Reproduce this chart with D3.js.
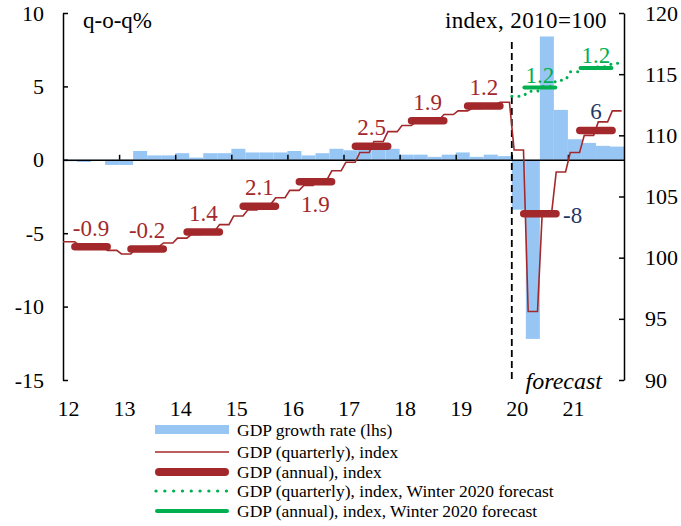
<!DOCTYPE html>
<html>
<head>
<meta charset="utf-8">
<script src="https://cdn.jsdelivr.net/npm/d3@7"></script>
<style>
  body { margin: 0; background: #fff; }
  text { font-family: "Liberation Serif", "Times New Roman", serif; }
</style>
</head>
<body>
<div id="chart"></div>
<script>
// x labels, one per year
var years = ["12", "13", "14", "15", "16", "17", "18", "19", "20", "21"];

// q-o-q growth, 2012Q1 .. 2021Q4 (lhs)
var growth = [
  -0.1, -0.15, -0.05, -0.35,
  -0.35, 0.6, 0.3, 0.3,
  0.45, 0.15, 0.45, 0.45,
  0.75, 0.5, 0.5, 0.5,
  0.6, 0.3, 0.45, 0.75,
  0.65, 0.75, 0.8, 0.75,
  0.35, 0.35, 0.2, 0.35,
  0.5, 0.2, 0.35, 0.25,
  -3.4, -12.2, 8.4, 3.4,
  1.4, 1.15, 0.95, 0.9
];

// quarterly GDP index, 2010=100 (rhs)
var quarterlyIndex = [
  101.3, 101.0, 100.9, 100.6,
  100.3, 100.7, 100.9, 101.2,
  101.6, 101.9, 102.2, 102.7,
  103.4, 103.9, 104.4, 104.9,
  105.5, 105.9, 106.4, 107.1,
  107.8, 108.6, 109.5, 110.3,
  110.8, 111.1, 111.3, 111.7,
  112.0, 112.2, 112.5, 112.7,
  108.8, 95.6, 103.6, 107.0,
  108.6, 110.0, 111.1, 112.0
];

// annual GDP index and growth labels
var annualIndex = [100.9, 100.7, 102.1, 104.2, 106.2, 109.1, 111.2, 112.4, 103.6, 110.4];
var annualLabels = ["-0.9", "-0.2", "1.4", "2.1", "1.9", "2.5", "1.9", "1.2", "-8", "6"];

// Winter 2020 forecast, 2020Q1 .. 2021Q4 and 2020, 2021
var forecastQuarterly = [113.2, 113.6, 114.0, 114.5, 115.2, 115.5, 115.6, 115.9];
var forecastAnnual = [113.9, 115.5];
var forecastLabels = ["1.2", "1.2"];

var red = "#a3282b", blue = "#97c6f4", green = "#00b050", navy = "#1f3864";

var svg = d3.select("#chart").append("svg")
    .attr("width", 681)
    .attr("height", 526);

var x = d3.scaleLinear().domain([0, 40]).range([63, 624]);
var yL = d3.scaleLinear().domain([-15, 10]).range([380, 13]);
var yR = d3.scaleLinear().domain([90, 120]).range([380, 13]);

// plain hyphen for negatives, as in the original
var fmt = function (d) { return String(d); };

// growth bars
svg.append("g")
    .selectAll("rect")
    .data(growth)
    .enter()
    .append("rect")
    .attr("x", function (d, i) { return x(i); })
    .attr("width", function (d, i) { return x(i + 1) - x(i); })
    .attr("y", function (d) { return yL(Math.max(0, d)); })
    .attr("height", function (d) { return Math.abs(yL(d) - yL(0)); })
    .attr("fill", blue);

// zero line with year ticks
svg.append("g")
    .attr("transform", "translate(0," + yL(0) + ")")
    .call(d3.axisBottom(x).tickValues(d3.range(4, 40, 4)).tickSizeInner(-5).tickSizeOuter(0).tickFormat(""))
    .call(function (g) { g.select(".domain").attr("stroke-width", 1.5); })
    .call(function (g) { g.selectAll(".tick line").attr("stroke-width", 1.5); });

// year labels along the bottom
svg.append("g")
    .attr("transform", "translate(5,380)")
    .call(d3.axisBottom(x).tickValues(d3.range(0, 40, 4)).tickSize(0).tickPadding(20)
        .tickFormat(function (d) { return years[d / 4]; }))
    .call(function (g) { g.select(".domain").remove(); })
    .selectAll("text")
    .style("font-size", "22px")
    .style("font-family", "'Liberation Serif', serif")
    .attr("fill", "#000");

// left axis
svg.append("g")
    .attr("transform", "translate(63,0)")
    .call(d3.axisLeft(yL).tickValues([-15, -10, -5, 0, 5, 10]).tickSizeInner(-5).tickSizeOuter(0)
        .tickPadding(19).tickFormat(fmt))
    .call(function (g) { g.select(".domain").attr("stroke-width", 1.5); })
    .call(function (g) { g.selectAll(".tick line").attr("stroke-width", 1.5); })
    .selectAll("text")
    .style("font-size", "22px")
    .style("font-family", "'Liberation Serif', serif");

// right axis
svg.append("g")
    .attr("transform", "translate(624,0)")
    .call(d3.axisRight(yR).tickValues([90, 95, 100, 105, 110, 115, 120]).tickSizeInner(-5).tickSizeOuter(0)
        .tickPadding(21).tickFormat(fmt))
    .call(function (g) { g.select(".domain").attr("stroke-width", 1.5); })
    .call(function (g) { g.selectAll(".tick line").attr("stroke-width", 1.5); })
    .selectAll("text")
    .style("font-size", "22px")
    .style("font-family", "'Liberation Serif', serif");

// step line helper: each quarter held flat, short slope into the next
function stepPoints(values, q0) {
    var pts = [];
    values.forEach(function (v, k) {
        var q = q0 + k;
        pts.push([k === 0 ? x(q) : x(q + 1 / 6), yR(v)]);
        pts.push([x(q + 5 / 6), yR(v)]);
    });
    return pts;
}

var line = d3.line();

// forecast divider
svg.append("line")
    .attr("x1", x(32)).attr("x2", x(32))
    .attr("y1", 42).attr("y2", 380)
    .attr("stroke", "#000")
    .attr("stroke-width", 1.8)
    .attr("stroke-dasharray", "7,4");

// quarterly index
svg.append("path")
    .attr("d", line(stepPoints(quarterlyIndex, 0)))
    .attr("fill", "none")
    .attr("stroke", red)
    .attr("stroke-width", 1.6);

// Winter forecast quarterly (dotted)
svg.append("path")
    .attr("d", line(stepPoints(forecastQuarterly, 32)))
    .attr("fill", "none")
    .attr("stroke", green)
    .attr("stroke-width", 3)
    .attr("stroke-linecap", "round")
    .attr("stroke-dasharray", "0.1,7");

// annual bars
svg.append("g")
    .selectAll("line")
    .data(annualIndex)
    .enter()
    .append("line")
    .attr("x1", function (d, i) { return x(4 * i + 0.85); })
    .attr("x2", function (d, i) { return x(4 * i + 3.15); })
    .attr("y1", function (d) { return yR(d); })
    .attr("y2", function (d) { return yR(d); })
    .attr("stroke", red)
    .attr("stroke-width", 7.5)
    .attr("stroke-linecap", "round");

svg.append("g")
    .selectAll("line")
    .data(forecastAnnual)
    .enter()
    .append("line")
    .attr("x1", function (d, i) { return x(32 + 4 * i + 0.9); })
    .attr("x2", function (d, i) { return x(32 + 4 * i + 3.1); })
    .attr("y1", function (d) { return yR(d); })
    .attr("y2", function (d) { return yR(d); })
    .attr("stroke", green)
    .attr("stroke-width", 4)
    .attr("stroke-linecap", "round");

// annual growth labels
var place = ["above", "above", "above", "above", "below", "above", "above", "above", "right", "above"];
svg.append("g")
    .selectAll("text")
    .data(annualIndex)
    .enter()
    .append("text")
    .attr("x", function (d, i) {
        return place[i] === "right" ? x(4 * i + 3.15) + 7 : x(4 * i + 2);
    })
    .attr("y", function (d, i) {
        if (place[i] === "below") return yR(d) + 30;
        if (place[i] === "right") return yR(d) + 9;
        return yR(d) - 11;
    })
    .attr("text-anchor", function (d, i) { return place[i] === "right" ? "start" : "middle"; })
    .attr("fill", function (d, i) { return i >= 8 ? navy : red; })
    .style("font-size", "23px")
    .text(function (d, i) { return annualLabels[i]; });

svg.append("g")
    .selectAll("text")
    .data(forecastAnnual)
    .enter()
    .append("text")
    .attr("x", function (d, i) { return x(32 + 4 * i + 2); })
    .attr("y", function (d) { return yR(d) - 5; })
    .attr("text-anchor", "middle")
    .attr("fill", green)
    .style("font-size", "23px")
    .text(function (d, i) { return forecastLabels[i]; });

// axis titles
svg.append("text")
    .attr("x", 83).attr("y", 28)
    .style("font-size", "23px")
    .text("q-o-q%");

svg.append("text")
    .attr("x", 607).attr("y", 28)
    .attr("text-anchor", "end")
    .style("font-size", "23px")
    .style("letter-spacing", "0.4px")
    .text("index, 2010=100");

svg.append("text")
    .attr("x", 602).attr("y", 389)
    .attr("text-anchor", "end")
    .style("font-size", "24px")
    .style("font-style", "italic")
    .text("forecast");

// legend
var legendNames = [
    "GDP growth rate (lhs)",
    "GDP (quarterly), index",
    "GDP (annual), index",
    "GDP (quarterly), index, Winter 2020 forecast",
    "GDP (annual), index, Winter 2020 forecast"
];
var legendY = [430, 452, 472, 491, 511];
var legend = svg.append("g");

legend.append("rect")
    .attr("x", 155).attr("y", legendY[0] - 5)
    .attr("width", 74).attr("height", 9)
    .attr("fill", blue);
legend.append("line")
    .attr("x1", 155).attr("x2", 229)
    .attr("y1", legendY[1]).attr("y2", legendY[1])
    .attr("stroke", red).attr("stroke-width", 1.6);
legend.append("line")
    .attr("x1", 159).attr("x2", 225)
    .attr("y1", legendY[2]).attr("y2", legendY[2])
    .attr("stroke", red).attr("stroke-width", 8)
    .attr("stroke-linecap", "round");
legend.append("line")
    .attr("x1", 156).attr("x2", 229)
    .attr("y1", legendY[3]).attr("y2", legendY[3])
    .attr("stroke", green).attr("stroke-width", 3.2)
    .attr("stroke-linecap", "round")
    .attr("stroke-dasharray", "0.1,8.7");
legend.append("line")
    .attr("x1", 157).attr("x2", 227)
    .attr("y1", legendY[4]).attr("y2", legendY[4])
    .attr("stroke", green).attr("stroke-width", 4)
    .attr("stroke-linecap", "round");

legend.selectAll("text")
    .data(legendNames)
    .enter()
    .append("text")
    .attr("x", 237)
    .attr("y", function (d, i) { return legendY[i] + 6; })
    .style("font-size", "17.5px")
    .text(function (d) { return d; });
</script>
</body>
</html>
